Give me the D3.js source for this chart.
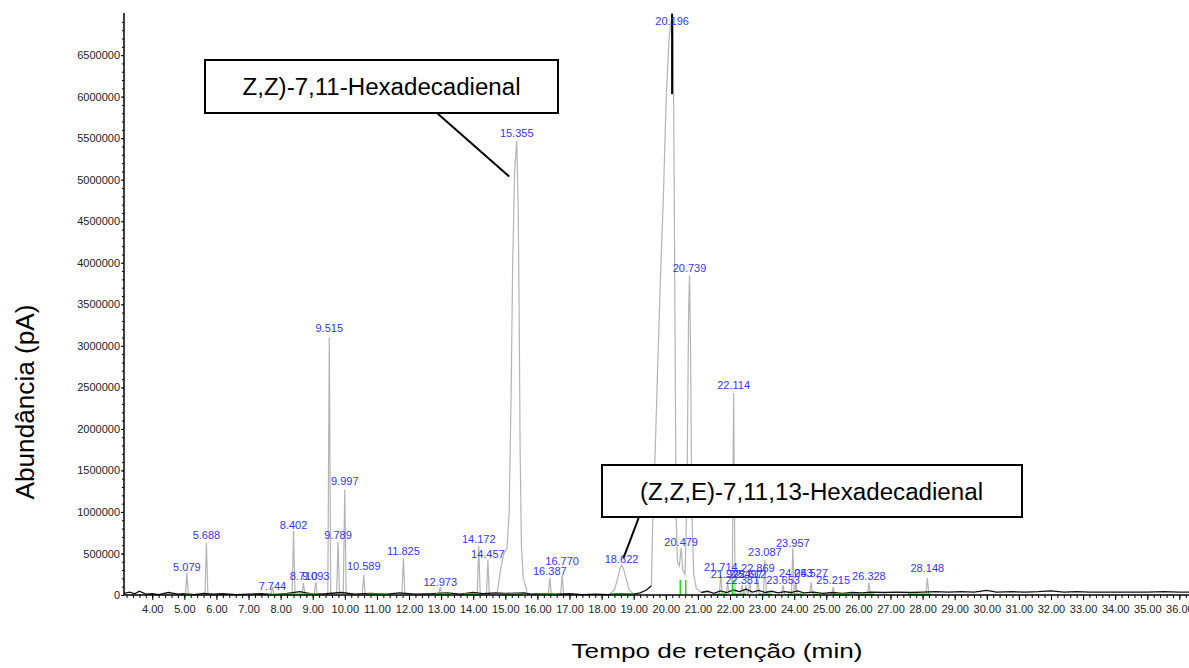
<!DOCTYPE html>
<html><head><meta charset="utf-8">
<script src="https://cdn.jsdelivr.net/npm/d3@7"></script>
<style>
body{margin:0;background:#fff}
svg{display:block}
text{font-family:"Liberation Sans",Arial,Helvetica,sans-serif}
</style>
</head><body>
<svg id="c" width="1189" height="668"></svg>
<script>
// ---------- DATA ----------
const peakRT = [5.079,5.688,7.744,8.402,8.710,9.093,9.515,9.789,9.997,10.589,11.825,12.973,14.172,14.457,15.355,16.387,16.770,18.622,20.196,20.479,20.739,21.714,21.925,22.114,22.381,22.497,22.612,22.869,23.087,23.653,23.957,24.053,24.527,25.215,26.328,28.148];
const peakLabel = ["5.079","5.688","7.744","8.402","8.710","9.093","9.515","9.789","9.997","10.589","11.825","12.973","14.172","14.457","15.355","16.387","16.770","18.622","20.196","20.479","20.739","21.714","21.925","22.114","22.381","22.497","22.612","22.869","23.087","23.653","23.957","24.053","24.527","25.215","26.328","28.148"];
const peakHeight = [264e3,625e3,96e3,770e3,144e3,156e3,3100e3,637e3,1270e3,240e3,445e3,96e3,590e3,420e3,5470e3,205e3,240e3,360e3,7000e3,565e3,3850e3,240e3,144e3,2430e3,120e3,120e3,156e3,205e3,420e3,120e3,565e3,144e3,156e3,96e3,144e3,205e3];
const labelLevel = [288e3,673e3,60e3,793e3,180e3,180e3,3161e3,673e3,1322e3,300e3,481e3,108e3,625e3,445e3,5517e3,240e3,361e3,385e3,6863e3,589e3,3894e3,288e3,204e3,2476e3,132e3,204e3,204e3,276e3,469e3,132e3,577e3,216e3,216e3,132e3,180e3,276e3];

// broad peaks [time, abundance]
const broadRT = [15.355,18.622,20.196,20.479,20.739];
const profile15 = [[14.75,30e3],[14.85,300e3],[14.95,500e3],[15.05,560e3],[15.12,1000e3],[15.18,2400e3],[15.23,4000e3],[15.29,5100e3],[15.355,5470e3],[15.4,4700e3],[15.43,3500e3],[15.46,1800e3],[15.5,600e3],[15.56,200e3],[15.68,40e3]];
const profile18 = [[18.25,10e3],[18.4,60e3],[18.5,200e3],[18.58,330e3],[18.622,360e3],[18.68,320e3],[18.76,200e3],[18.86,60e3],[19.0,10e3]];
const profile20 = [[19.55,110e3],[19.6,1000e3],[19.67,1740e3],[19.75,2800e3],[19.85,4000e3],[19.92,4750e3],[20.01,5950e3],[20.1,6700e3],[20.196,7000e3],[20.23,6800e3],[20.26,5000e3],[20.29,3000e3],[20.32,1000e3],[20.36,400e3],[20.42,350e3],[20.479,565e3],[20.53,300e3],[20.6,250e3],[20.66,1200e3],[20.71,3400e3],[20.739,3850e3],[20.77,3000e3],[20.81,1000e3],[20.87,250e3],[20.95,80e3],[21.1,30e3]];

// baseline trace (black); null = trace hidden under the main peak group
const baseT = [3.12,3.3,3.45,3.6,3.8,4.0,4.2,4.5,4.8,5.0,5.3,5.6,5.9,6.2,6.6,7.0,7.4,7.8,8.2,8.6,9.0,9.4,9.9,10.3,10.8,11.3,11.7,12.2,12.7,13.2,13.6,14.0,14.3,14.7,15.0,15.6,15.8,16.2,16.6,17.0,17.4,17.8,18.2,18.5,19.0,19.2,19.4,19.55,20.0,21.1,21.3,21.5,21.7,21.9,22.1,22.3,22.5,22.7,22.9,23.1,23.3,23.5,23.7,23.9,24.1,24.3,24.6,24.9,25.2,25.5,25.8,26.1,26.4,26.8,27.2,27.6,28.0,28.4,28.8,29.2,29.6,30.0,30.3,30.8,31.2,31.6,32.0,32.4,32.8,33.2,33.6,34.0,34.5,35.0,35.5,36.0,36.3];
const baseV = [20e3,35e3,15e3,45e3,10e3,15e3,5e3,30e3,10e3,15e3,5e3,20e3,10e3,15e3,5e3,10e3,15e3,5e3,20e3,40e3,10e3,15e3,30e3,10e3,20e3,10e3,25e3,10e3,15e3,25e3,10e3,30e3,15e3,25e3,20e3,25e3,10e3,15e3,10e3,15e3,5e3,10e3,5e3,15e3,10e3,25e3,60e3,110e3,null,30e3,45e3,20e3,50e3,30e3,60e3,40e3,70e3,35e3,55e3,30e3,45e3,25e3,40e3,30e3,50e3,25e3,35e3,20e3,30e3,20e3,30e3,25e3,35e3,30e3,35e3,30e3,35e3,40e3,35e3,40e3,35e3,55e3,35e3,40e3,35e3,40e3,50e3,35e3,40e3,35e3,35e3,35e3,35e3,35e3,40e3,35e3,35e3];

// integration baseline segments (green) [start, end]
const greenSeg = [[5.0,5.25],[7.6,9.2],[10.7,11.4],[12.8,13.3],[13.7,14.2],[14.9,15.5],[16.0,16.6],[18.3,19.0],[21.5,21.9],[22.1,22.5],[22.9,23.3],[23.8,24.3],[24.6,24.8],[25.2,25.75],[26.05,26.5],[27.55,28.25]];
const greenDrop = [20.45,20.62,22.08];

// axes
const xMajorTicks = d3.range(4, 37, 1);
const yMajorTicks = d3.range(0, 7000000, 500000);

// annotations
const annoText = ["Z,Z)-7,11-Hexadecadienal", "(Z,Z,E)-7,11,13-Hexadecadienal"];
const annoTargetT = [15.12, 18.68];
const annoTargetV = [5040e3, 445e3];

// ---------- CHART ----------
const svg = d3.select("#c");
const x = d3.scaleLinear().domain([3.12, 36.3]).range([124, 1189]);
const y = d3.scaleLinear().domain([0, 7000000]).range([595, 13.6]);
const line = d3.line().defined(d => d[1] !== null).x(d => x(d[0])).y(d => y(d[1]));
const grey = "#b4b4b4", blue = "#3434ff";

// grey peaks
const narrow = peakRT.map((t,i)=>({t,h:peakHeight[i]})).filter(d=>!broadRT.includes(d.t));
svg.append("g").selectAll("path").data(narrow).join("path")
  .attr("d", d => line([[d.t-0.045,10e3],[d.t,d.h],[d.t+0.045,10e3]]))
  .attr("fill","none").attr("stroke",grey).attr("stroke-width",1.2);
[profile15, profile18, profile20].forEach(p=>{
  svg.append("path").attr("d", line(p)).attr("fill","none").attr("stroke",grey).attr("stroke-width",1.2);
});

// black baseline
svg.append("path").attr("d", line(baseT.map((t,i)=>[t,baseV[i]])))
  .attr("fill","none").attr("stroke","#111").attr("stroke-width",1.3);

// green segments
svg.append("g").selectAll("line").data(greenSeg).join("line")
  .attr("x1",d=>x(d[0])).attr("x2",d=>x(d[1]))
  .attr("y1",y(8e3)).attr("y2",y(8e3))
  .attr("stroke","#16e016").attr("stroke-width",1.8);
svg.append("g").selectAll("line").data(greenDrop).join("line")
  .attr("x1",d=>x(d)).attr("x2",d=>x(d))
  .attr("y1",y(0)).attr("y2",y(180e3))
  .attr("stroke","#16e016").attr("stroke-width",1.5);

// marker line at main peak
svg.append("line").attr("x1",x(20.196)).attr("x2",x(20.196))
  .attr("y1",y(7000e3)).attr("y2",y(6030e3)).attr("stroke","#000").attr("stroke-width",2);

// peak labels
svg.append("g").selectAll("text").data(peakRT).join("text")
  .attr("x",d=>x(d)).attr("y",(d,i)=>y(labelLevel[i]))
  .attr("text-anchor","middle").attr("font-size",11).attr("fill",blue)
  .text((d,i)=>peakLabel[i]);

// X axis
const gx = svg.append("g").attr("transform","translate(0,595)");
gx.call(d3.axisBottom(x).tickValues(d3.range(3.2,36.3,0.2)).tickSize(3).tickFormat(""))
  .call(g=>g.select(".domain").remove());
const gx2 = svg.append("g").attr("transform","translate(0,595)");
gx2.call(d3.axisBottom(x).tickValues(xMajorTicks).tickSize(5).tickPadding(5).tickFormat(d3.format(".2f")))
  .call(g=>g.select(".domain").remove());
gx2.selectAll("text").attr("font-size",11).attr("fill","#222").attr("font-family",null);
svg.append("line").attr("x1",124).attr("x2",1189).attr("y1",595).attr("y2",595).attr("stroke","#000").attr("stroke-width",1.5);

// Y axis
const gy = svg.append("g").attr("transform","translate(124,0)");
gy.call(d3.axisLeft(y).tickValues(d3.range(0,7000000,100000)).tickSize(2).tickFormat(""))
  .call(g=>g.select(".domain").remove());
const gy2 = svg.append("g").attr("transform","translate(124,0)");
gy2.call(d3.axisLeft(y).tickValues(yMajorTicks).tickSize(3).tickPadding(1).tickFormat(d3.format("d")))
  .call(g=>g.select(".domain").remove());
gy2.selectAll("text").attr("font-size",11).attr("fill","#222").attr("font-family",null);
svg.append("line").attr("x1",124).attr("x2",124).attr("y1",13).attr("y2",595).attr("stroke","#000").attr("stroke-width",1.5);

// annotations
const boxes = [{x:205,y:60,w:353,h:53,tx:381.5,ty:95,tl:278,lx:437,ly:113},
               {x:602,y:465,w:420,h:52,tx:811.5,ty:500,tl:343,lx:639,ly:517}];
boxes.forEach((b,i)=>{
  svg.append("line").attr("x1",b.lx).attr("y1",b.ly)
    .attr("x2",x(annoTargetT[i])).attr("y2",y(annoTargetV[i]))
    .attr("stroke","#000").attr("stroke-width",2);
  svg.append("rect").attr("x",b.x).attr("y",b.y).attr("width",b.w).attr("height",b.h)
    .attr("fill","#fff").attr("stroke","#000").attr("stroke-width",2);
  svg.append("text").attr("x",b.tx).attr("y",b.ty).attr("text-anchor","middle")
    .attr("font-size",23).attr("textLength",b.tl).attr("lengthAdjust","spacingAndGlyphs")
    .attr("fill","#000").text(annoText[i]);
});

// axis titles
svg.append("text").attr("transform","translate(34,402) rotate(-90)")
  .attr("text-anchor","middle").attr("font-size",25)
  .attr("textLength",195).attr("lengthAdjust","spacingAndGlyphs")
  .attr("fill","#000").text("Abundância (pA)");
svg.append("text").attr("x",717).attr("y",658)
  .attr("text-anchor","middle").attr("font-size",21)
  .attr("textLength",291).attr("lengthAdjust","spacingAndGlyphs")
  .attr("fill","#000").text("Tempo de retenção (min)");
</script>
</body></html>
